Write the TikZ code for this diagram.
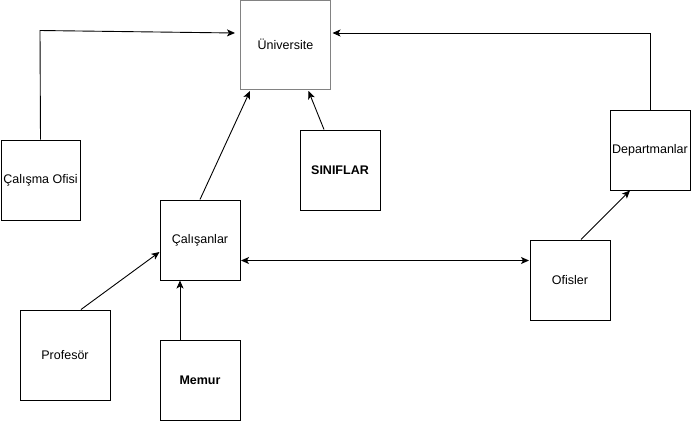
\documentclass[tikz,border=0pt]{standalone}
\usepackage{fontspec}
\setmainfont{Liberation Sans}
\usetikzlibrary{arrows.meta,calc}
\definecolor{unigray}{RGB}{130,130,130}
\begin{document}
\begin{tikzpicture}[x=1pt,y=-1pt,
  box/.style={draw=black,line width=1pt,minimum width=80pt,minimum height=80pt,inner sep=0pt,font=\fontsize{12.5}{14}\selectfont},
  arr/.style={line width=0.9pt,-{Stealth[length=8pt,width=7pt,inset=2pt]}},
  darr/.style={line width=0.9pt,{Stealth[length=8pt,width=7pt,inset=2pt]}-{Stealth[length=8pt,width=7pt,inset=2pt]}}]
\useasboundingbox (0,0) rectangle (691,421);
\node[box,draw=unigray,minimum width=90pt,minimum height=89pt] (uni) at (285.5,45) {\raisebox{1pt}{Üniversite}};
\node[box,minimum width=79pt] (co) at (40.5,180) {Çalışma Ofisi};
\node[box] (sin) at (340,170) {\textbf{SINIFLAR}};
\node[box] (dep) at (650,150) {Departmanlar};
\node[box] (cal) at (200,240) {Çalışanlar};
\node[box] (ofis) at (570,280) {Ofisler};
\node[box,minimum width=90pt,minimum height=90pt] (prof) at (65,355) {Profesör};
\node[box] (mem) at (200,380) {\textbf{Memur}};
\coordinate (k1) at (40,30.5);
\coordinate (k2) at (650,33);
\draw[arr] (co.north) -- (k1) -- ($(uni.west)+(-5,-12)$);
\draw[arr] (dep.north) -- (k2) -- ($(uni.east)+(1.5,-12)$);
\draw[arr] ($(sin.north)+(-16,0)$) -- ($(uni.south)+(23,1)$);
\draw[arr] (cal.north) -- ($(uni.south)+(-35.5,1)$);
\draw[arr] ($(prof.north)+(16,0)$) -- ($(cal.west)+(0,12)$);
\draw[arr] ($(mem.north)+(-20,0)$) -- ($(cal.south)+(-20,0)$);
\draw[darr] ($(cal.east)+(0.5,20.5)$) -- ($(ofis.west)+(-0.5,-19.5)$);
\draw[arr] ($(ofis.north)+(11,0)$) -- ($(dep.south)+(-20,0)$);
\end{tikzpicture}
\end{document}
